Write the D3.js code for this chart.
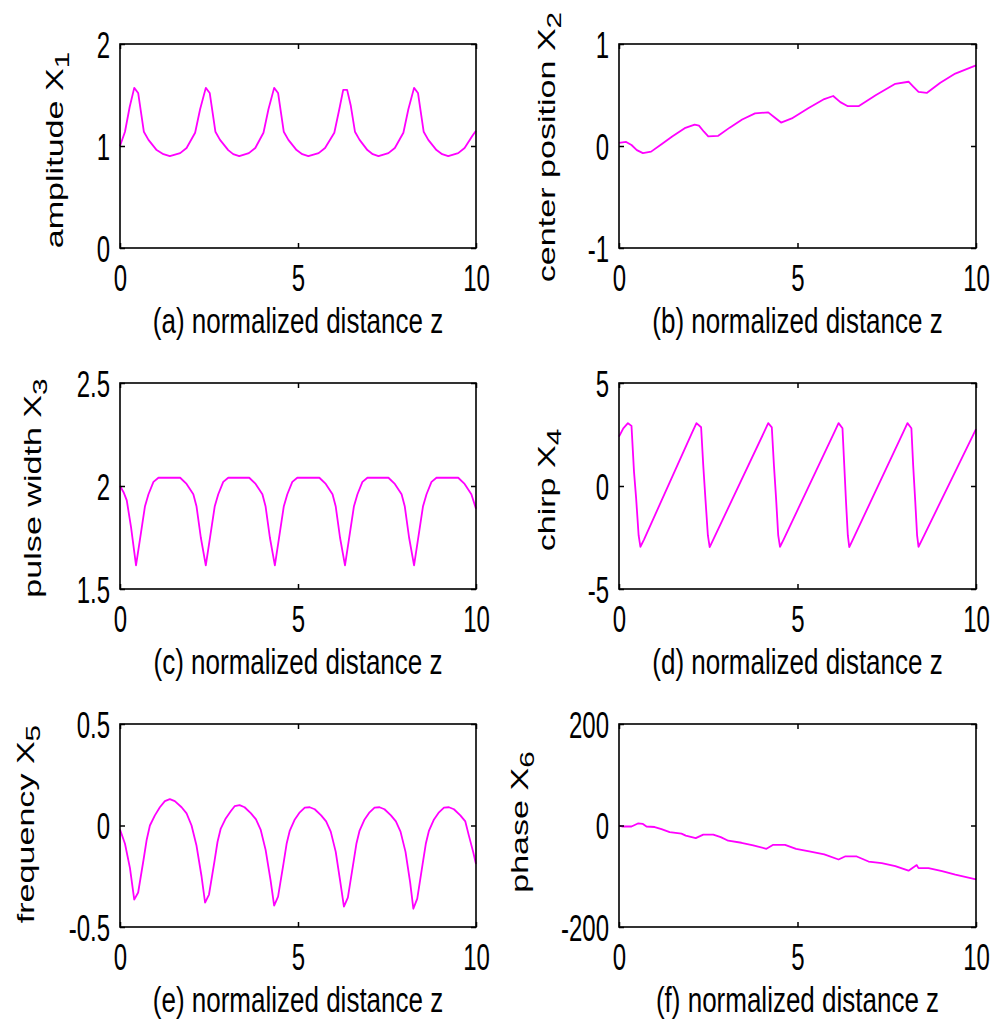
<!DOCTYPE html>
<html>
<head>
<meta charset="utf-8">
<script src="https://cdn.jsdelivr.net/npm/d3@7"></script>
<style>
    body { margin: 0; background: #ffffff; }
    text { font-family: "Liberation Sans", Arial, sans-serif; fill: #000; }
</style>
</head>
<body>
<svg id="chart" width="993" height="1025"></svg>
<script>
// values, [z, value]
var amplitude = [
    [0.00, 1.00], [0.14, 1.14], [0.27, 1.38], [0.40, 1.57], [0.51, 1.52], [0.67, 1.14], [0.80, 1.06], [1.03, 0.96], [1.22, 0.92], [1.40, 0.90],
    [1.69, 0.93], [1.87, 0.98], [2.11, 1.13], [2.25, 1.36], [2.41, 1.57], [2.52, 1.52], [2.68, 1.14], [2.81, 1.06], [3.04, 0.96], [3.18, 0.92], [3.35, 0.90],
    [3.62, 0.93], [3.80, 0.98], [4.03, 1.13], [4.17, 1.36], [4.33, 1.57], [4.44, 1.52], [4.60, 1.14], [4.73, 1.06], [4.96, 0.96], [5.12, 0.92], [5.29, 0.90],
    [5.58, 0.93], [5.76, 0.98], [6.02, 1.13], [6.16, 1.36], [6.27, 1.55], [6.38, 1.55], [6.48, 1.40], [6.60, 1.14], [6.73, 1.06], [6.95, 0.96], [7.10, 0.92], [7.26, 0.90],
    [7.54, 0.93], [7.72, 0.98], [7.96, 1.13], [8.10, 1.36], [8.26, 1.57], [8.37, 1.52], [8.53, 1.14], [8.66, 1.06], [8.89, 0.96], [9.05, 0.92], [9.22, 0.90],
    [9.50, 0.93], [9.68, 0.98], [9.90, 1.10], [10.0, 1.15]
];
var centerPosition = [
    [0.00, 0.03], [0.20, 0.04], [0.35, 0.01], [0.50, -0.04], [0.67, -0.07], [0.90, -0.055], [1.20, 0.02], [1.50, 0.095], [1.84, 0.175], [2.12, 0.21],
    [2.24, 0.20], [2.38, 0.14], [2.50, 0.095], [2.78, 0.10], [3.10, 0.18], [3.45, 0.26], [3.81, 0.32], [4.18, 0.33], [4.36, 0.28], [4.54, 0.23],
    [4.84, 0.27], [5.30, 0.37], [5.75, 0.46], [6.00, 0.49], [6.20, 0.43], [6.41, 0.39], [6.71, 0.39], [7.20, 0.50], [7.74, 0.61], [8.11, 0.63],
    [8.25, 0.58], [8.39, 0.53], [8.62, 0.52], [9.00, 0.62], [9.42, 0.71], [10.0, 0.79]
];
var pulseWidth = [
    [0.00, 2.00], [0.10, 1.97], [0.19, 1.93], [0.31, 1.80], [0.45, 1.615], [0.56, 1.74], [0.70, 1.90], [0.80, 1.96], [0.94, 2.02], [1.08, 2.04], [1.69, 2.04],
    [1.87, 2.01], [2.06, 1.96], [2.15, 1.90], [2.27, 1.75], [2.41, 1.615], [2.52, 1.74], [2.66, 1.90], [2.76, 1.96], [2.90, 2.02], [3.04, 2.04], [3.63, 2.04],
    [3.81, 2.01], [4.00, 1.96], [4.09, 1.90], [4.21, 1.75], [4.35, 1.615], [4.46, 1.74], [4.60, 1.90], [4.70, 1.96], [4.84, 2.02], [4.98, 2.04], [5.60, 2.04],
    [5.78, 2.01], [5.97, 1.96], [6.06, 1.90], [6.18, 1.75], [6.32, 1.615], [6.43, 1.74], [6.57, 1.90], [6.67, 1.96], [6.81, 2.02], [6.95, 2.04], [7.54, 2.04],
    [7.72, 2.01], [7.91, 1.96], [8.00, 1.90], [8.12, 1.75], [8.26, 1.615], [8.37, 1.74], [8.51, 1.90], [8.61, 1.96], [8.75, 2.02], [8.89, 2.04], [9.50, 2.04],
    [9.68, 2.01], [9.87, 1.96], [10.0, 1.89]
];
var chirp = [
    [0.00, 2.40], [0.12, 2.80], [0.25, 3.05], [0.35, 2.92], [0.42, 0.70], [0.48, -0.60], [0.55, -2.40], [0.60, -2.95], [0.70, -2.60],
    [2.05, 2.60], [2.17, 3.05], [2.30, 2.85], [2.36, 1.00], [2.42, -0.60], [2.49, -2.40], [2.54, -2.97], [2.64, -2.60],
    [4.06, 2.60], [4.18, 3.05], [4.28, 2.85], [4.34, 1.00], [4.40, -0.60], [4.46, -2.40], [4.51, -2.95], [4.61, -2.60],
    [6.03, 2.60], [6.15, 3.05], [6.26, 2.80], [6.31, 1.00], [6.36, -0.80], [6.41, -2.40], [6.45, -2.97], [6.55, -2.60],
    [7.96, 2.60], [8.08, 3.05], [8.19, 2.80], [8.24, 1.00], [8.30, -0.80], [8.35, -2.40], [8.39, -2.95], [8.49, -2.60],
    [10.0, 2.76]
];
var frequency = [
    [0.00, -0.02], [0.14, -0.09], [0.28, -0.21], [0.40, -0.365],
    [0.51, -0.33], [0.66, -0.17], [0.75, -0.07], [0.84, 0.00], [0.98, 0.05], [1.12, 0.09], [1.26, 0.12], [1.40, 0.13], [1.54, 0.12], [1.73, 0.09], [1.87, 0.06], [2.01, 0.00], [2.15, -0.10], [2.29, -0.25], [2.39, -0.38],
    [2.50, -0.34], [2.65, -0.18], [2.74, -0.08], [2.83, -0.015], [2.97, 0.035], [3.11, 0.07], [3.22, 0.095], [3.36, 0.10], [3.50, 0.09], [3.68, 0.06], [3.82, 0.03], [3.95, -0.02], [4.09, -0.12], [4.23, -0.27], [4.33, -0.395],
    [4.44, -0.35], [4.59, -0.19], [4.68, -0.09], [4.77, -0.025], [4.91, 0.03], [5.05, 0.065], [5.19, 0.088], [5.33, 0.09], [5.47, 0.08], [5.65, 0.05], [5.79, 0.02], [5.92, -0.03], [6.06, -0.13], [6.19, -0.28], [6.29, -0.40],
    [6.40, -0.355], [6.55, -0.19], [6.64, -0.09], [6.73, -0.025], [6.87, 0.03], [7.01, 0.065], [7.15, 0.088], [7.29, 0.09], [7.43, 0.08], [7.61, 0.05], [7.75, 0.02], [7.88, -0.03], [8.02, -0.13], [8.15, -0.28], [8.24, -0.41],
    [8.35, -0.36], [8.50, -0.19], [8.59, -0.09], [8.68, -0.025], [8.82, 0.03], [8.96, 0.065], [9.10, 0.088], [9.24, 0.09], [9.38, 0.08], [9.56, 0.05], [9.70, 0.02], [9.80, -0.05], [9.92, -0.13], [10.0, -0.19]
];
var phase = [
    [0.00, 0], [0.10, -2], [0.35, -2], [0.53, 4], [0.67, 3], [0.77, -2], [1.00, -3], [1.19, -7], [1.42, -13], [1.75, -16], [1.87, -20], [2.15, -25],
    [2.36, -18], [2.64, -18], [2.85, -23], [3.06, -30], [3.43, -34], [3.76, -39], [4.13, -46], [4.32, -38], [4.65, -38], [4.96, -46], [5.33, -51],
    [5.75, -57], [6.15, -67], [6.33, -61], [6.66, -61], [6.99, -71], [7.36, -74], [7.74, -80], [8.11, -89], [8.34, -78], [8.39, -84], [8.67, -84],
    [9.05, -90], [9.42, -97], [10.0, -106]
];

var zTicks = [0, 5, 10];
var amplitudeTicks = [0, 1, 2];
var centerTicks = [-1, 0, 1];
var widthTicks = [1.5, 2, 2.5];
var chirpTicks = [-5, 0, 5];
var frequencyTicks = [-0.5, 0, 0.5];
var phaseTicks = [-200, 0, 200];

var yNames = ["amplitude X", "center position X", "pulse width X", "chirp X", "frequency X", "phase X"];
var ySubs = ["1", "2", "3", "4", "5", "6"];
var xNames = ["(a) normalized distance z", "(b) normalized distance z", "(c) normalized distance z",
              "(d) normalized distance z", "(e) normalized distance z", "(f) normalized distance z"];

var ChartFacade = {};

(function(d3) {

    var panelObject = (function() {

        var render = function(renderObject) {
            var cfg = {
                svg: renderObject.svg,
                data: renderObject.data,
                yTicks: renderObject.yTicks,
                yName: renderObject.yName,
                ySub: renderObject.ySub,
                xName: renderObject.xName,
                box: renderObject.box
            };
            var b = cfg.box;

            var x = d3.scaleLinear().domain([zTicks[0], zTicks[zTicks.length - 1]]).range([0, b.w]);
            var y = d3.scaleLinear().domain([cfg.yTicks[0], cfg.yTicks[cfg.yTicks.length - 1]]).range([b.h, 0]);

            var g = cfg.svg.append("g").attr("transform", "translate(" + b.x + "," + b.y + ")");

            // curve
            var line = d3.line()
                .x(function(d) { return x(d[0]); })
                .y(function(d) { return y(d[1]); });

            g.append("path")
                .datum(cfg.data)
                .attr("d", line)
                .attr("fill", "none")
                .attr("stroke", "#ff00ff")
                .attr("stroke-width", 1.8)
                .attr("stroke-linejoin", "round");

            // inward ticks on all four sides
            var bottom = g.append("g").attr("transform", "translate(0," + b.h + ")")
                .call(d3.axisBottom(x).tickValues(zTicks).tickSizeInner(-5).tickSizeOuter(0).tickFormat(String));
            var top = g.append("g")
                .call(d3.axisTop(x).tickValues(zTicks).tickSizeInner(-5).tickSizeOuter(0).tickFormat(""));
            var left = g.append("g")
                .call(d3.axisLeft(y).tickValues(cfg.yTicks).tickSizeInner(-5).tickSizeOuter(0).tickFormat(String));
            var right = g.append("g").attr("transform", "translate(" + b.w + ",0)")
                .call(d3.axisRight(y).tickValues(cfg.yTicks).tickSizeInner(-5).tickSizeOuter(0).tickFormat(""));

            [bottom, top, left, right].forEach(function(a) {
                a.select(".domain").remove();
                a.selectAll("line").attr("stroke", "#000").attr("stroke-width", 1.5);
            });

            bottom.selectAll("text")
                .attr("y", 0)
                .attr("dy", 0)
                .attr("font-size", 24)
                .attr("font-family", null)
                .attr("fill", "#000")
                .attr("transform", "translate(0,43) scale(1,1.55)");

            left.selectAll("text")
                .attr("x", 0)
                .attr("dy", "0.36em")
                .attr("font-size", 24)
                .attr("font-family", null)
                .attr("fill", "#000")
                .attr("transform", "translate(-10,0) scale(1,1.55)");

            g.append("rect")
                .attr("width", b.w)
                .attr("height", b.h)
                .attr("fill", "none")
                .attr("stroke", "#000")
                .attr("stroke-width", 1.6);

            // x label
            g.append("text")
                .attr("text-anchor", "middle")
                .attr("font-size", 26)
                .attr("transform", "translate(" + (b.w / 2) + "," + (b.h + 85) + ") scale(1,1.38)")
                .text(cfg.xName);

            // y label with subscript
            var yl = cfg.svg.append("text")
                .attr("text-anchor", "middle")
                .attr("font-size", 24)
                .attr("transform", "translate(" + b.lx + "," + b.ly + ") rotate(-90) scale(1.42,1)");
            yl.append("tspan").text(cfg.yName);
            yl.append("tspan").attr("font-size", 21).attr("dy", "0.3em").text(cfg.ySub);

            return g;
        }; //render function Ends

        return {
            "render": render
        };

    })();

    ChartFacade.panelObject = panelObject;

})(d3);

var svg = d3.select("#chart");
svg.append("rect").attr("width", 993).attr("height", 1025).attr("fill", "#fff");

var series = [amplitude, centerPosition, pulseWidth, chirp, frequency, phase];
var ticks = [amplitudeTicks, centerTicks, widthTicks, chirpTicks, frequencyTicks, phaseTicks];
var boxes = [
    { x: 120, y: 44,  w: 356, h: 204, lx: 63,  ly: 150 },
    { x: 619, y: 44,  w: 357, h: 204, lx: 555, ly: 147 },
    { x: 120, y: 383, w: 356, h: 206, lx: 41,  ly: 488 },
    { x: 619, y: 383, w: 357, h: 206, lx: 555, ly: 490 },
    { x: 120, y: 724, w: 356, h: 203, lx: 34,  ly: 824 },
    { x: 619, y: 724, w: 357, h: 203, lx: 528, ly: 822 }
];

series.forEach(function(s, i) {
    ChartFacade.panelObject.render({
        svg: svg,
        data: s,
        yTicks: ticks[i],
        yName: yNames[i],
        ySub: ySubs[i],
        xName: xNames[i],
        box: boxes[i]
    });
});
</script>
</body>
</html>
